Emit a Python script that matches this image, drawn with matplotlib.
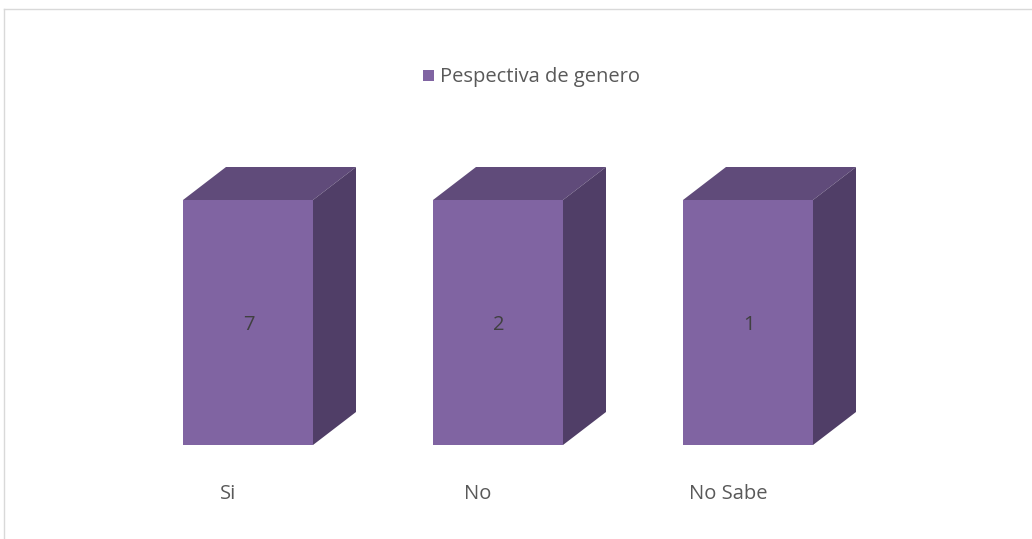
import matplotlib
matplotlib.use("Agg")
import matplotlib.pyplot as plt
from matplotlib.patches import Polygon, Rectangle
from matplotlib.lines import Line2D

categories = ["Si", "No", "No Sabe"]
values = [7, 2, 1]
series_name = "Pespectiva de genero"
# 100% stacked: each column is one series = 100% of its category
shares = [v / v * 100 for v in values]

front_c = "#8064A2"
top_c = "#604B7A"
side_c = "#503E67"
text_c = "#595959"

plt.rcParams['font.family'] = ['Open Sans', 'DejaVu Sans']
FS = 14.5

W, H = 1032, 539
fig = plt.figure(figsize=(W / 100, H / 100), dpi=100)
ax = fig.add_axes([123 / W, (H - 445) / H, 750 / W, 245 / H])
ax.set_xlim(-0.5, 2.5)
ax.set_ylim(0, 100)
ax.axis("off")

bw = 0.52
dx = 43 / 250.0
dy = 33 / 245.0 * 100

bars = ax.bar(range(len(categories)), shares, width=bw, color=front_c,
              edgecolor="none", zorder=3)
for i, (b, v) in enumerate(zip(bars, values)):
    x0 = b.get_x()
    x1 = x0 + b.get_width()
    h = b.get_height()
    top = Polygon([(x0, h), (x1, h), (x1 + dx, h + dy), (x0 + dx, h + dy)],
                  closed=True, facecolor=top_c, edgecolor="none",
                  clip_on=False, zorder=2)
    side = Polygon([(x1, 0), (x1 + dx, dy), (x1 + dx, h + dy), (x1, h)],
                   closed=True, facecolor=side_c, edgecolor="none",
                   clip_on=False, zorder=2)
    ax.add_patch(top)
    ax.add_patch(side)
    ax.text(i + 0.004, h / 2 - 1.0, str(v), ha="center", va="center",
            fontsize=FS, color="#404040", zorder=4)
    ax.annotate(categories[i], xy=(i - 0.08, 0), xytext=(0, -49),
                textcoords="offset pixels", ha="center", va="center",
                fontsize=FS, color=text_c, annotation_clip=False)

# legend
fig.patches.append(Rectangle((423 / W, 1 - 81 / H), 11 / W, 11 / H,
                             transform=fig.transFigure, facecolor=front_c,
                             edgecolor="none"))
fig.text(440 / W, 1 - 77 / H, series_name, ha="left", va="center",
         fontsize=FS, color=text_c)

# chart border
fig.add_artist(Line2D([4 / W, 1], [1 - 9 / H, 1 - 9 / H],
                      transform=fig.transFigure, color="#D9D9D9", lw=1))
fig.add_artist(Line2D([4 / W, 4 / W], [0, 1 - 9 / H],
                      transform=fig.transFigure, color="#D9D9D9", lw=1))

fig.savefig("out.png", dpi=100)
